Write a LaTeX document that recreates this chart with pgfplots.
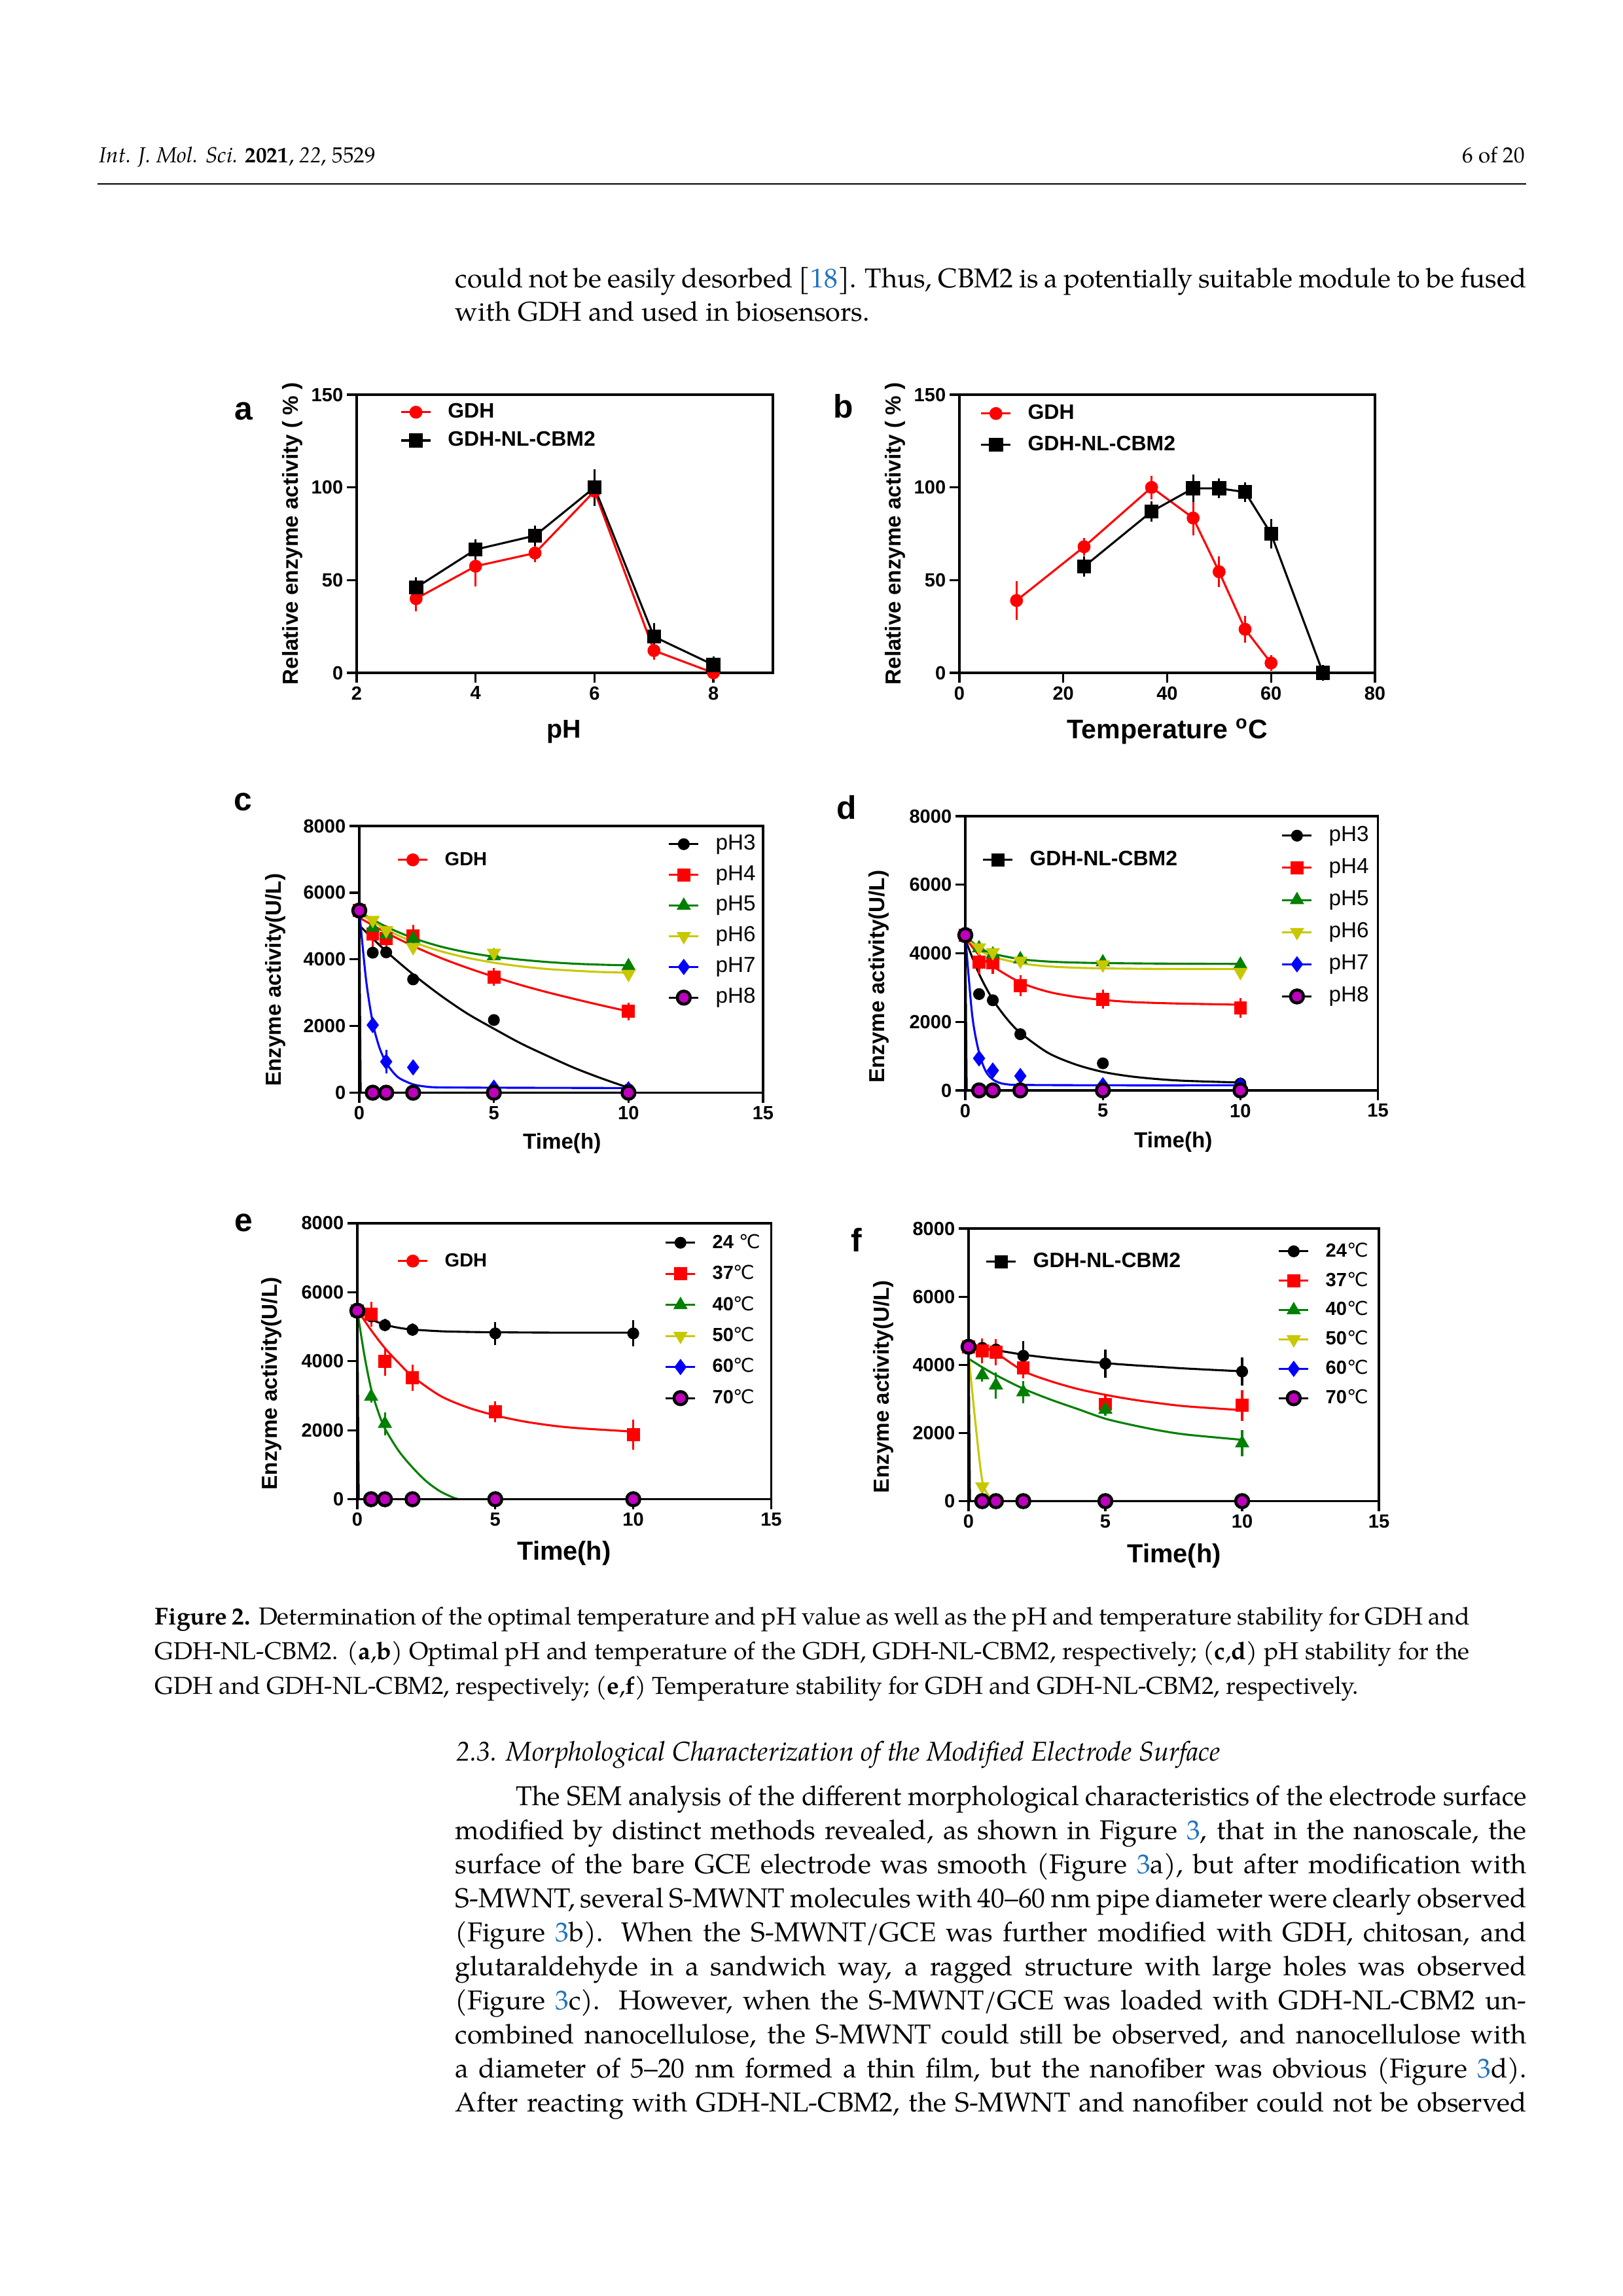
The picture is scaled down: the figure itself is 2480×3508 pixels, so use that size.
\documentclass[border=0pt]{standalone}
\usepackage{fontspec}
\setmainfont{texgyrepagella}[Extension=.otf, UprightFont=*-regular, BoldFont=*-bold, ItalicFont=*-italic, BoldItalicFont=*-bolditalic]
\setsansfont{Liberation Sans}
\newfontfamily\dejavu{DejaVu Sans}
\usepackage{graphicx}
\usepackage{pgfplots}
\pgfplotsset{compat=1.18}

\newlength\px \setlength\px{0.0846667mm}
\definecolor{ggreen}{RGB}{0,128,0}
\definecolor{yyel}{RGB}{200,200,0}
\definecolor{ppur}{RGB}{190,0,190}
\definecolor{linkblue}{RGB}{30,115,190}

% series styles (GraphPad look)
\tikzset{
  s3/.style={black, line width=0.75pt, mark=*, mark size=1.8pt},
  s4/.style={red, line width=0.75pt, mark=square*, mark size=2pt},
  s5/.style={ggreen, line width=0.75pt, mark=triangle*, mark size=2.3pt},
  s6/.style={yyel, line width=0.75pt, mark=triangle*, mark size=2.3pt, mark options={rotate=180}},
  s7/.style={blue, line width=0.75pt, mark=diamond*, mark size=2.4pt},
  s8/.style={black, line width=0.75pt, mark=*, mark size=2.4pt, mark options={fill=ppur, line width=1.1pt}},
  fit/.style={line width=0.75pt, smooth, no marks},
  bodyt/.style={anchor=base west, inner sep=0pt, font=\fontsize{10}{12}\selectfont},
  capt/.style={anchor=base west, inner sep=0pt, font=\fontsize{9}{11}\selectfont},
  plab/.style={inner sep=0pt, font=\sffamily\bfseries\fontsize{12}{14}\selectfont},
}

\pgfplotsset{
  gp/.style={
    scale only axis, clip=false,
    axis line style={line width=0.8pt},
    every tick/.style={line width=0.8pt, black},
    major tick length=1.27mm, tick align=outside, tick pos=left,
    tick label style={font=\sffamily\bfseries\fontsize{7}{8}\selectfont, inner sep=1.2pt},
    /pgf/number format/assume math mode=true,
    /pgf/number format/1000 sep={},
    scaled ticks=false,
    label style={font=\sffamily\bfseries\fontsize{8}{9}\selectfont},
    ylabel style={anchor=center}, xlabel style={anchor=center},
    legend image code/.code={\draw[mark repeat=2,mark phase=2,##1] plot coordinates {(0mm,0mm)(1.9mm,0mm)(3.8mm,0mm)};},
    legend style={draw=none, fill=none, inner sep=0pt, anchor=north west,
      font=\sffamily\fontsize{8}{9}\selectfont,
      nodes={inner sep=0pt, text height=5.5pt, text depth=1.5pt},
      /tikz/every odd column/.append style={column sep=2.1mm}},
    legend cell align=left,
    every axis plot/.append style={line width=0.75pt},
    error bars/error bar style={line width=0.75pt},
    error bars/error mark options={line width=0.75pt, mark size=2.3pt},
  },
  tgrid/.style={xmin=0, xmax=15, ymin=0, ymax=8000, xtick={0,5,10,15}, ytick={0,2000,4000,6000,8000},
    xlabel={Time(h)}, ylabel={Enzyme activity(U/L)}},
  namelegend/.style={font=\sffamily\bfseries\fontsize{7.7}{9}\selectfont},
}

\begin{document}
\begin{tikzpicture}
\begin{scope}[x=0.0846667mm, y=-0.0846667mm]
\fill[white] (0,0) rectangle (2480,3508);
\path[use as bounding box] (0,0) rectangle (2480,3508);

% running head
\node[anchor=base west, inner sep=0pt, font=\fontsize{8}{10}\selectfont] at (151,248) {\textit{Int. J. Mol. Sci.} \textbf{2021}, \textit{22}, 5529};
\node[anchor=base east, inner sep=0pt, font=\fontsize{8}{10}\selectfont] at (2331,248) {6 of 20};
\draw[line width=0.55pt] (149,281) -- (2332,281);

% text above the figure
\node[bodyt] at (695,439) {\makebox[1637\px][s]{could not be easily desorbed [\textcolor{linkblue}{18}]. Thus, CBM2 is a potentially suitable module to be fused}};
\node[bodyt] at (695,490) {with GDH and used in biosensors.};

% panel letters
\node[plab] at (372,628) {a};
\node[plab] at (1289,621) {b};
\node[plab] at (371,1225) {c};
\node[plab] at (1294,1234) {d};
\node[plab] at (372,1868) {e};
\node[plab] at (1309,1894) {f};

% caption
\node[capt] at (236,2482) {\makebox[2009\px][s]{\textbf{Figure 2.} Determination of the optimal temperature and pH value as well as the pH and temperature stability for GDH and}};
\node[capt] at (236,2535) {\makebox[2009\px][s]{GDH-NL-CBM2. (\textbf{a},\textbf{b}) Optimal pH and temperature of the GDH, GDH-NL-CBM2, respectively; (\textbf{c},\textbf{d}) pH stability for the}};
\node[capt] at (236,2588) {GDH and GDH-NL-CBM2, respectively; (\textbf{e},\textbf{f}) Temperature stability for GDH and GDH-NL-CBM2, respectively.};

% section 2.3
\node[bodyt, font=\itshape\fontsize{10}{12}\selectfont] at (697,2690) {2.3. Morphological Characterization of the Modified Electrode Surface};
\node[bodyt] at (788,2758) {\resizebox{1544\px}{\height}{The SEM analysis of the different morphological characteristics of the electrode surface}};
\node[bodyt] at (695,2810) {\makebox[1637\px][s]{modified by distinct methods revealed, as shown in Figure \textcolor{linkblue}{3}, that in the nanoscale, the}};
\node[bodyt] at (695,2862) {\makebox[1637\px][s]{surface of the bare GCE electrode was smooth (Figure \textcolor{linkblue}{3}a), but after modification with}};
\node[bodyt] at (695,2914) {\makebox[1637\px][s]{S-MWNT, several S-MWNT molecules with 40--60 nm pipe diameter were clearly observed}};
\node[bodyt] at (695,2966) {\makebox[1637\px][s]{(Figure \textcolor{linkblue}{3}b). When the S-MWNT/GCE was further modified with GDH, chitosan, and}};
\node[bodyt] at (695,3018) {\makebox[1637\px][s]{glutaraldehyde in a sandwich way, a ragged structure with large holes was observed}};
\node[bodyt] at (695,3070) {\makebox[1637\px][s]{(Figure \textcolor{linkblue}{3}c). However, when the S-MWNT/GCE was loaded with GDH-NL-CBM2 un-}};
\node[bodyt] at (695,3122) {\makebox[1637\px][s]{combined nanocellulose, the S-MWNT could still be observed, and nanocellulose with}};
\node[bodyt] at (695,3174) {\makebox[1637\px][s]{a diameter of 5--20 nm formed a thin film, but the nanofiber was obvious (Figure \textcolor{linkblue}{3}d).}};
\node[bodyt] at (695,3226) {\makebox[1637\px][s]{After reacting with GDH-NL-CBM2, the S-MWNT and nanofiber could not be observed}};

% axis corners (lower left of each plot box)
\coordinate (Aa) at (545,1028);
\coordinate (Ab) at (1466,1028);
\coordinate (Ac) at (549,1669.5);
\coordinate (Ad) at (1475,1666);
\coordinate (Ae) at (546,2290.6);
\coordinate (Af) at (1480,2293.5);
\end{scope}

%% (a) optimal pH
\begin{axis}[gp, at={(Aa)}, anchor=south west, width=53.85mm, height=35.98mm,
  xmin=2, xmax=9, ymin=0, ymax=150, xtick={2,4,6,8}, ytick={0,50,100,150},
  xlabel={pH}, ylabel={Relative enzyme activity ( \% )},
  xlabel style={at={(axis description cs:0.498,-0.211)}, font=\sffamily\bfseries\fontsize{9.5}{11}\selectfont},
  ylabel style={at={(axis description cs:-0.154,0.5)}},
  legend style={at={(axis description cs:0.1033,0.9732)}, namelegend, row sep=1.2mm},
]
\addplot[red, mark=*, mark size=2pt, error bars/.cd, y dir=both, y explicit]
  coordinates {(3,40) +- (0,3.5) (4,57.5) +- (0,7.5) (5,64.6) +- (0,1.5) (6,98) +- (0,2) (7,12) +- (0,1.5) (8,0) +- (0,0)};
\addlegendentry{GDH}
\addplot[black, mark=square*, mark size=2.2pt, error bars/.cd, y dir=both, y explicit]
  coordinates {(3,46) +- (0,2) (4,66.5) +- (0,2) (5,74) +- (0,2) (6,100) +- (0,6.5) (7,19.5) +- (0,4) (8,4.3) +- (0,1)};
\addlegendentry{GDH-NL-CBM2}
\end{axis}

%% (b) optimal temperature
\begin{axis}[gp, at={(Ab)}, anchor=south west, width=53.76mm, height=35.98mm,
  xmin=0, xmax=80, ymin=0, ymax=150, xtick={0,20,40,60,80}, ytick={0,50,100,150},
  xlabel={Temperature \textsuperscript{o}C}, ylabel={Relative enzyme activity ( \% )},
  xlabel style={at={(axis description cs:0.501,-0.211)}, font=\sffamily\bfseries\fontsize{9.9}{11}\selectfont},
  ylabel style={at={(axis description cs:-0.154,0.5)}},
  legend style={at={(axis description cs:0.0488,0.9685)}, namelegend, row sep=1.6mm},
]
\addplot[red, mark=*, mark size=2pt, error bars/.cd, y dir=both, y explicit]
  coordinates {(11,39) +- (0,7) (24,68) +- (0,1.5) (37,100) +- (0,3) (45,83.5) +- (0,6) (50,54.5) +- (0,5) (55,23.5) +- (0,4) (60,5.3) +- (0,1)};
\addlegendentry{GDH}
\addplot[black, mark=square*, mark size=2.2pt, error bars/.cd, y dir=both, y explicit]
  coordinates {(24,57.3) +- (0,2) (37,87) +- (0,2) (45,99.5) +- (0,4) (50,99.5) +- (0,2) (55,97.5) +- (0,2) (60,75) +- (0,4.5) (70,0) +- (0,1)};
\addlegendentry{GDH-NL-CBM2}
\end{axis}

%% (c) pH stability, GDH
\begin{axis}[gp, tgrid, at={(Ac)}, anchor=south west, width=52.24mm, height=34.50mm,
  xlabel style={at={(axis description cs:0.502,-0.190)}},
  ylabel style={at={(axis description cs:-0.2075,0.423)}},
  legend style={at={(axis description cs:0.7634,0.9696)}, row sep=1.51mm},
]
% fitted curves
\addplot[fit, black, forget plot] coordinates {(0,5020)(1,4240)(2,3550)(3,2930)(4,2380)(5,1920)(6,1480)(7,1100)(8,740)(9,430)(10,150)};
\addplot[fit, red, forget plot] coordinates {(0,5250)(1,4800)(2,4400)(3,4050)(4,3750)(5,3480)(6,3230)(7,3010)(8,2810)(9,2620)(10,2440)};
\addplot[fit, ggreen, forget plot] coordinates {(0,5420)(1,4980)(2,4640)(3,4390)(4,4210)(5,4080)(6,3990)(7,3920)(8,3870)(9,3840)(10,3820)};
\addplot[fit, yyel, forget plot] coordinates {(0,5380)(1,4900)(2,4520)(3,4250)(4,4050)(5,3900)(6,3790)(7,3710)(8,3660)(9,3620)(10,3600)};
\addplot[fit, blue, forget plot] coordinates {(0,5465)(0.25,3400)(0.5,2100)(0.75,1350)(1,900)(1.25,620)(1.5,430)(2,250)(2.5,180)(3,160)(5,150)(10,140)};
\addplot[black, line width=0.75pt, no marks, forget plot] coordinates {(0,5465)(0.05,0)(10,0)};
% measured points
\addplot[s3, only marks, forget plot] coordinates {(0,5465)(0.5,4200)(1,4210)(2,3400)(5,2180)(10,100)};
\addplot[s4, only marks, forget plot, error bars/.cd, y dir=both, y explicit]
  coordinates {(0,5465) +- (0,0) (0.5,4760) +- (0,200) (1,4630) +- (0,200) (2,4700) +- (0,150) (5,3470) +- (0,80) (10,2440) +- (0,80)};
\addplot[s5, only marks, forget plot] coordinates {(0,5465)(0.5,4950)(1,4750)(2,4620)(5,4100)(10,3800)};
\addplot[s6, only marks, forget plot] coordinates {(0,5465)(0.5,5180)(1,4870)(2,4360)(5,4195)(10,3560)};
\addplot[s7, only marks, forget plot, error bars/.cd, y dir=both, y explicit]
  coordinates {(0,5465) +- (0,0) (0.5,2030) +- (0,0) (1,930) +- (0,170) (2,760) +- (0,0) (5,150) +- (0,0) (10,100) +- (0,0)};
\addplot[s8, only marks, forget plot] coordinates {(0,5465)(0.5,0)(1,0)(2,0)(5,0)(10,0)};
\addlegendimage{s3}\addlegendentry{pH3}
\addlegendimage{s4}\addlegendentry{pH4}
\addlegendimage{s5}\addlegendentry{pH5}
\addlegendimage{s6}\addlegendentry{pH6}
\addlegendimage{s7}\addlegendentry{pH7}
\addlegendimage{s8}\addlegendentry{pH8}
\end{axis}
\begin{axis}[gp, at={(Ac)}, anchor=south west, width=52.24mm, height=34.50mm, hide axis,
  xmin=0, xmax=15, ymin=0, ymax=8000,
  legend style={at={(axis description cs:0.0924,0.9107)}, font=\sffamily\bfseries\fontsize{7}{8}\selectfont}]
\addlegendimage{red, line width=0.75pt, mark=*, mark size=2pt}\addlegendentry{GDH}
\end{axis}

%% (d) pH stability, GDH-NL-CBM2
\begin{axis}[gp, tgrid, at={(Ad)}, anchor=south west, width=53.39mm, height=35.48mm,
  xlabel style={at={(axis description cs:0.504,-0.189)}},
  ylabel style={at={(axis description cs:-0.209,0.415)}},
  legend style={at={(axis description cs:0.7644,0.9656)}, row sep=1.7mm},
]
\addplot[fit, black, forget plot] coordinates {(0,4400)(0.5,3400)(1,2650)(1.5,2100)(2,1680)(3,1100)(4,760)(5,540)(6,410)(7,330)(8,280)(10,230)};
\addplot[fit, red, forget plot] coordinates {(0,4450)(0.5,3950)(1,3620)(2,3150)(3,2880)(4,2730)(5,2640)(6,2580)(7,2550)(8,2530)(10,2500)};
\addplot[fit, ggreen, forget plot] coordinates {(0,4500)(0.5,4170)(1,3990)(2,3830)(3,3760)(4,3730)(5,3715)(7,3700)(10,3690)};
\addplot[fit, yyel, forget plot] coordinates {(0,4480)(0.5,4110)(1,3900)(2,3710)(3,3620)(4,3580)(5,3560)(7,3545)(10,3540)};
\addplot[fit, blue, forget plot] coordinates {(0,4530)(0.25,2200)(0.5,1100)(0.75,550)(1,320)(1.25,220)(1.5,180)(2,160)(5,150)(10,150)};
\addplot[black, line width=0.75pt, no marks, forget plot] coordinates {(0,4530)(0.05,0)(10,0)};
\addplot[s3, only marks, forget plot] coordinates {(0,4530)(0.5,2810)(1,2630)(2,1640)(5,790)(10,200)};
\addplot[s4, only marks, forget plot, error bars/.cd, y dir=both, y explicit]
  coordinates {(0,4530) +- (0,0) (0.5,3740) +- (0,150) (1,3730) +- (0,150) (2,3060) +- (0,120) (5,2660) +- (0,100) (10,2410) +- (0,100)};
\addplot[s5, only marks, forget plot] coordinates {(0,4530)(0.5,4150)(1,3970)(2,3830)(5,3740)(10,3670)};
\addplot[s6, only marks, forget plot] coordinates {(0,4530)(0.5,4170)(1,4030)(2,3780)(5,3670)(10,3450)};
\addplot[s7, only marks, forget plot] coordinates {(0,4530)(0.5,935)(1,580)(2,420)(5,150)(10,150)};
\addplot[s8, only marks, forget plot] coordinates {(0,4530)(0.5,0)(1,0)(2,0)(5,0)(10,0)};
\addlegendimage{s3}\addlegendentry{pH3}
\addlegendimage{s4}\addlegendentry{pH4}
\addlegendimage{s5}\addlegendentry{pH5}
\addlegendimage{s6}\addlegendentry{pH6}
\addlegendimage{s7}\addlegendentry{pH7}
\addlegendimage{s8}\addlegendentry{pH8}
\end{axis}
\begin{axis}[gp, at={(Ad)}, anchor=south west, width=53.39mm, height=35.48mm, hide axis,
  xmin=0, xmax=15, ymin=0, ymax=8000,
  legend style={at={(axis description cs:0.0396,0.8773)}, namelegend}]
\addlegendimage{black, line width=0.75pt, mark=square*, mark size=2pt}\addlegendentry{GDH-NL-CBM2}
\end{axis}

%% (e) temperature stability, GDH
\begin{axis}[gp, tgrid, at={(Ae)}, anchor=south west, width=53.55mm, height=35.70mm,
  xlabel style={at={(axis description cs:0.4996,-0.195)}, font=\sffamily\bfseries\fontsize{9.6}{11}\selectfont},
  ylabel style={at={(axis description cs:-0.208,0.419)}},
  legend style={at={(axis description cs:0.7415,0.9658)}, row sep=1.56mm, font=\sffamily\fontsize{7}{8}\selectfont},
]
\addplot[fit, black, forget plot] coordinates {(0,5500)(0.5,5220)(1,5060)(1.5,4970)(2,4920)(3,4870)(4,4850)(5,4840)(7,4830)(10,4830)};
\addplot[fit, red, forget plot] coordinates {(0,5490)(0.5,4900)(1,4380)(1.5,3950)(2,3560)(3,3000)(4,2660)(5,2430)(6,2260)(7,2140)(8,2060)(10,1960)};
\addplot[fit, ggreen, forget plot] coordinates {(0,5465)(0.25,4200)(0.5,3200)(0.75,2550)(1,2050)(1.5,1400)(2,920)(2.5,520)(3,230)(3.5,40)(3.7,0)};
\addplot[black, line width=0.75pt, no marks, forget plot] coordinates {(0,5465)(0.05,0)(10,0)};
\addplot[s3, only marks, forget plot, error bars/.cd, y dir=both, y explicit]
  coordinates {(0,5465) +- (0,0) (0.5,5300) +- (0,0) (1,5046) +- (0,0) (2,4912) +- (0,0) (5,4807) +- (0,150) (10,4807) +- (0,200)};
\addplot[s4, only marks, forget plot, error bars/.cd, y dir=both, y explicit]
  coordinates {(0,5465) +- (0,0) (0.5,5368) +- (0,180) (1,3993) +- (0,230) (2,3523) +- (0,200) (5,2540) +- (0,120) (10,1874) +- (0,250)};
\addplot[s5, only marks, forget plot, error bars/.cd, y dir=both, y explicit]
  coordinates {(0,5465) +- (0,0) (0.5,2975) +- (0,0) (1,2189) +- (0,150) (2,0) +- (0,0) (5,0) +- (0,0) (10,0) +- (0,0)};
\addplot[s6, only marks, forget plot] coordinates {(0,5465)(0.5,0)(1,0)(2,0)(5,0)(10,0)};
\addplot[s7, only marks, forget plot] coordinates {(0,5465)(0.5,0)(1,0)(2,0)(5,0)(10,0)};
\addplot[s8, only marks, forget plot] coordinates {(0,5465)(0.5,0)(1,0)(2,0)(5,0)(10,0)};
\addlegendimage{s3}\addlegendentry{\textbf{24 }{\dejavu ℃}}
\addlegendimage{s4}\addlegendentry{\textbf{37}{\dejavu ℃}}
\addlegendimage{s5}\addlegendentry{\textbf{40}{\dejavu ℃}}
\addlegendimage{s6}\addlegendentry{\textbf{50}{\dejavu ℃}}
\addlegendimage{s7}\addlegendentry{\textbf{60}{\dejavu ℃}}
\addlegendimage{s8}\addlegendentry{\textbf{70}{\dejavu ℃}}
\end{axis}
\begin{axis}[gp, at={(Ae)}, anchor=south west, width=53.55mm, height=35.70mm, hide axis,
  xmin=0, xmax=15, ymin=0, ymax=8000,
  legend style={at={(axis description cs:0.0949,0.8994)}, font=\sffamily\bfseries\fontsize{7}{8}\selectfont}]
\addlegendimage{red, line width=0.75pt, mark=*, mark size=2pt}\addlegendentry{GDH}
\end{axis}

%% (f) temperature stability, GDH-NL-CBM2
\begin{axis}[gp, tgrid, at={(Af)}, anchor=south west, width=53.09mm, height=35.26mm,
  xlabel style={at={(axis description cs:0.5008,-0.2)}, font=\sffamily\bfseries\fontsize{9.6}{11}\selectfont},
  ylabel style={at={(axis description cs:-0.207,0.42)}},
  legend style={at={(axis description cs:0.7528,0.9534)}, row sep=1.34mm, font=\sffamily\fontsize{7}{8}\selectfont},
]
\addplot[fit, black, forget plot] coordinates {(0,4560)(1,4430)(2,4300)(3,4200)(4,4120)(5,4050)(6,3990)(7,3940)(8,3890)(10,3810)};
\addplot[fit, red, forget plot] coordinates {(0,4620)(0.5,4520)(1,4350)(2,3820)(3,3520)(4,3290)(5,3120)(6,2980)(7,2870)(8,2780)(10,2670)};
\addplot[fit, ggreen, forget plot] coordinates {(0,4180)(0.5,3930)(1,3700)(2,3300)(3,2980)(4,2700)(5,2420)(6,2230)(7,2070)(8,1950)(10,1800)};
\addplot[fit, yyel, forget plot] coordinates {(0,4300)(0.25,2300)(0.5,600)(0.75,150)(1,20)};
\addplot[black, line width=0.75pt, no marks, forget plot] coordinates {(0,4530)(0.05,0)(10,0)};
\addplot[s3, only marks, forget plot, error bars/.cd, y dir=both, y explicit]
  coordinates {(0,4530) +- (0,0) (0.5,4500) +- (0,0) (1,4450) +- (0,0) (2,4267) +- (0,250) (5,4039) +- (0,230) (10,3804) +- (0,230)};
\addplot[s4, only marks, forget plot, error bars/.cd, y dir=both, y explicit]
  coordinates {(0,4530) +- (0,0) (0.5,4409) +- (0,180) (1,4373) +- (0,200) (2,3911) +- (0,130) (5,2844) +- (0,100) (10,2809) +- (0,270)};
\addplot[s5, only marks, forget plot, error bars/.cd, y dir=both, y explicit]
  coordinates {(0,4530) +- (0,0) (0.5,3698) +- (0,0) (1,3400) +- (0,200) (2,3200) +- (0,150) (5,2688) +- (0,0) (10,1700) +- (0,200)};
\addplot[s6, only marks, forget plot] coordinates {(0,4530)(0.5,427)(1,0)(2,0)(5,0)(10,0)};
\addplot[s7, only marks, forget plot] coordinates {(0,4530)(0.5,0)(1,0)(2,0)(5,0)(10,0)};
\addplot[s8, only marks, forget plot] coordinates {(0,4530)(0.5,0)(1,0)(2,0)(5,0)(10,0)};
\addlegendimage{s3}\addlegendentry{\textbf{24}{\dejavu ℃}}
\addlegendimage{s4}\addlegendentry{\textbf{37}{\dejavu ℃}}
\addlegendimage{s5}\addlegendentry{\textbf{40}{\dejavu ℃}}
\addlegendimage{s6}\addlegendentry{\textbf{50}{\dejavu ℃}}
\addlegendimage{s7}\addlegendentry{\textbf{60}{\dejavu ℃}}
\addlegendimage{s8}\addlegendentry{\textbf{70}{\dejavu ℃}}
\end{axis}
\begin{axis}[gp, at={(Af)}, anchor=south west, width=53.09mm, height=35.26mm, hide axis,
  xmin=0, xmax=15, ymin=0, ymax=8000,
  legend style={at={(axis description cs:0.0399,0.915)}, namelegend}]
\addlegendimage{black, line width=0.75pt, mark=square*, mark size=2pt}\addlegendentry{GDH-NL-CBM2}
\end{axis}
\end{tikzpicture}
\end{document}
